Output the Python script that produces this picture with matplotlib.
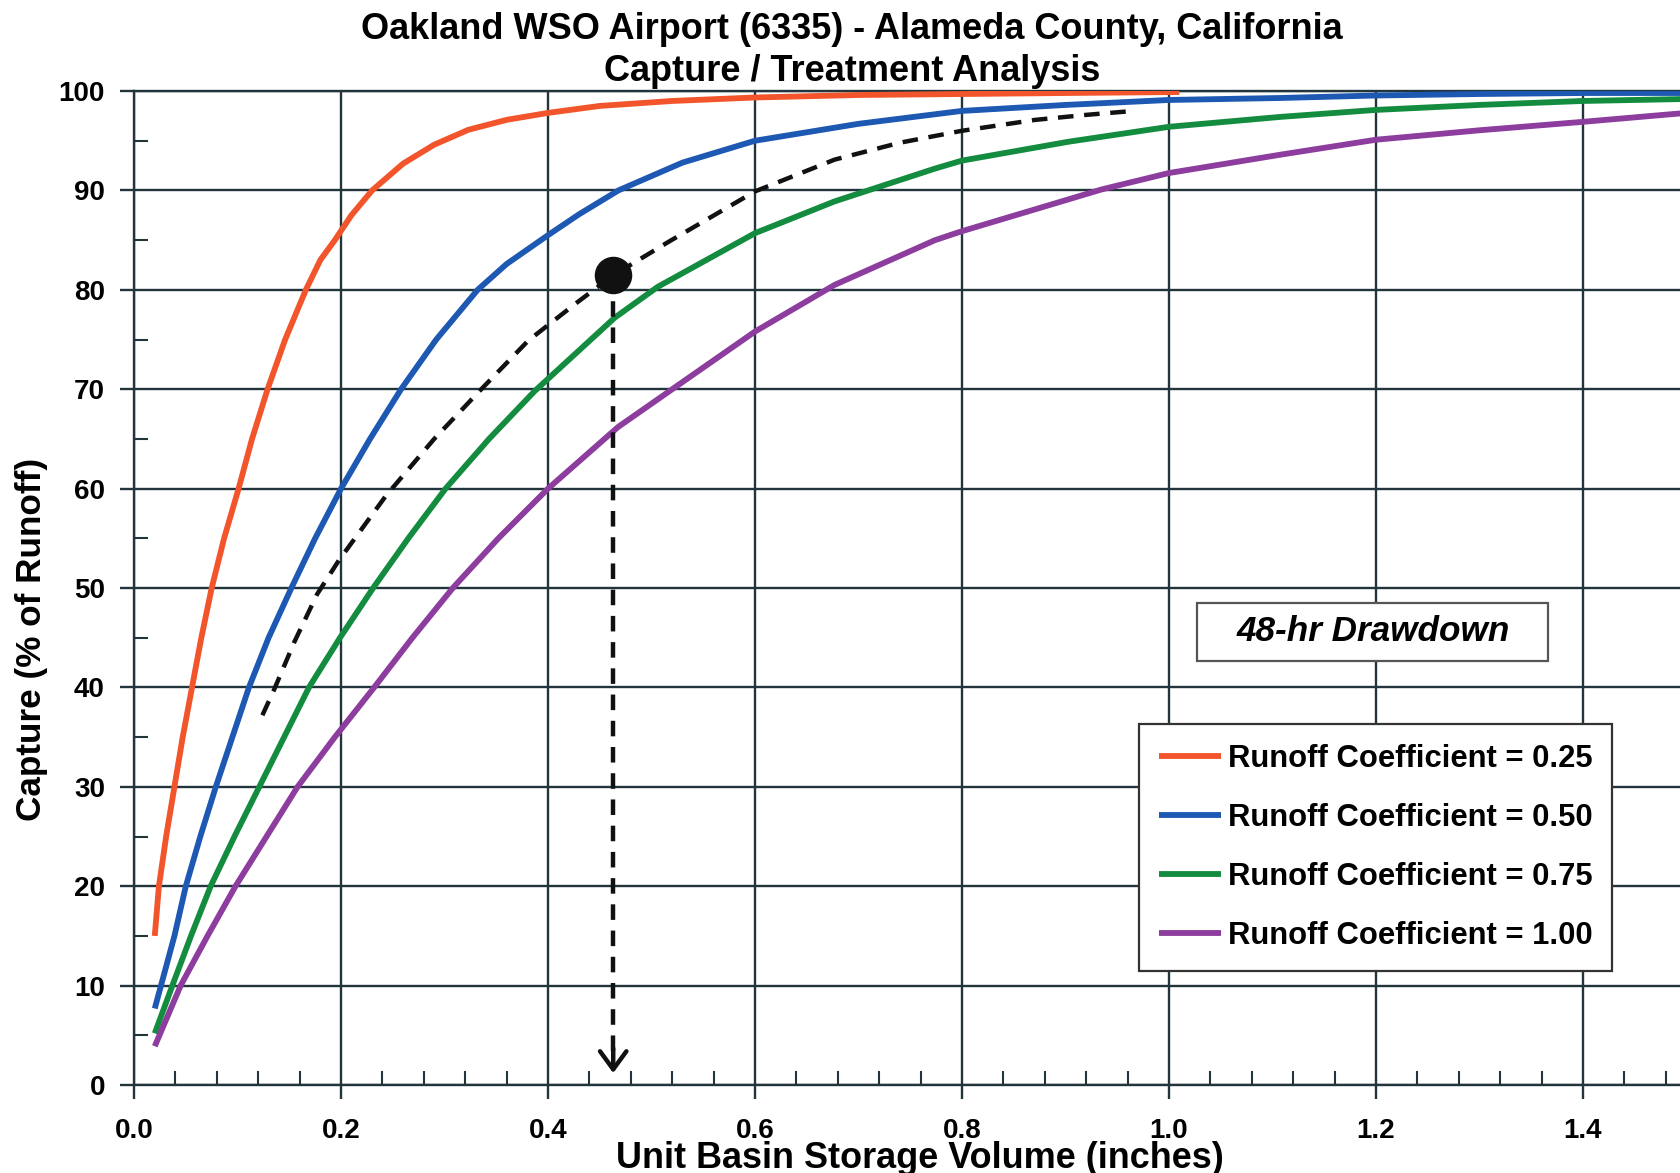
import numpy as np
import matplotlib.pyplot as plt
from matplotlib.ticker import MultipleLocator, FormatStrFormatter
from matplotlib.patches import Rectangle

plt.rcParams['font.family'] = ['Liberation Sans', 'DejaVu Sans']
plt.rcParams['font.weight'] = 'bold'

# capture curves (x = unit basin storage volume, y = % capture)
x_025 = [0.02, 0.024, 0.031, 0.039, 0.047, 0.056, 0.065, 0.075, 0.087, 0.101, 0.114, 0.129,
         0.146, 0.166, 0.18, 0.194, 0.21, 0.23, 0.26, 0.29, 0.323, 0.36, 0.4, 0.45, 0.52,
         0.6, 0.7, 0.8, 0.9, 1.01]
y_025 = [15, 20, 25, 30, 35, 40, 45, 50, 55, 60, 65, 70,
         75, 80, 83, 85, 87.5, 90, 92.7, 94.6, 96.1, 97.1, 97.8, 98.5, 99.0,
         99.35, 99.6, 99.7, 99.8, 99.9]

x_050 = [0.02, 0.026, 0.039, 0.05, 0.064, 0.079, 0.095, 0.111, 0.13, 0.152, 0.175, 0.2,
         0.228, 0.258, 0.292, 0.332, 0.36, 0.4, 0.43, 0.468, 0.53, 0.6, 0.7, 0.8, 0.9, 1.0,
         1.108, 1.2, 1.3, 1.4, 1.5]
y_050 = [7.7, 10, 15, 20, 25, 30, 35, 40, 45, 50, 55, 60,
         65, 70, 75, 80, 82.6, 85.5, 87.6, 90, 92.8, 95.0, 96.7, 98.0, 98.6, 99.1,
         99.3, 99.55, 99.7, 99.8, 99.8]

x_075 = [0.02, 0.037, 0.055, 0.074, 0.097, 0.121, 0.145, 0.169, 0.199, 0.231, 0.265, 0.301,
         0.343, 0.387, 0.4645, 0.506, 0.6, 0.677, 0.774, 0.8, 0.903, 1.0, 1.108, 1.2,
         1.3, 1.4, 1.5]
y_075 = [5.2, 10, 15, 20, 25, 30, 35, 40, 45, 50, 55, 60,
         65, 69.8, 77.2, 80.3, 85.7, 88.9, 92.2, 93.0, 94.9, 96.4, 97.4, 98.1,
         98.6, 99.0, 99.2]

x_100 = [0.02, 0.045, 0.071, 0.098, 0.128, 0.158, 0.194, 0.232, 0.269, 0.308, 0.352, 0.4,
         0.4677, 0.52, 0.6, 0.677, 0.774, 0.8, 0.935, 1.0, 1.108, 1.2, 1.3, 1.4, 1.5]
y_100 = [3.9, 10, 15, 20, 25, 30, 35, 40, 45, 50, 55, 60,
         66.2, 70, 75.8, 80.5, 85.0, 85.9, 90.1, 91.75, 93.6, 95.1, 96.05, 96.9, 97.8]

# dashed design curve and the selected point
x_design = [0.124, 0.135, 0.155, 0.177, 0.198, 0.2435, 0.29, 0.3355, 0.381, 0.429, 0.4629,
            0.516, 0.6, 0.677, 0.74, 0.8, 0.871, 0.92, 0.966]
y_design = [37.2, 39.7, 44.6, 49.4, 52.8, 59.3, 65.0, 70, 74.9, 78.8, 81.45,
            84.8, 89.9, 93.1, 94.8, 96.0, 97.1, 97.6, 98.0]
point_x = 0.463
point_y = 81.45
arrow_end_y = 1.2

labels = ["Runoff Coefficient = 0.25", "Runoff Coefficient = 0.50",
          "Runoff Coefficient = 0.75", "Runoff Coefficient = 1.00"]
colors = ['#F2552B', '#1D58B3', '#148C3F', '#8C3D9E']

grid_c = '#22343c'

fig = plt.figure(figsize=(16.8, 11.73), dpi=100)
ax = fig.add_axes([0.0798, 0.075, 0.924, 0.8474])

series = [(x_025, y_025), (x_050, y_050), (x_075, y_075), (x_100, y_100)]
for (xs, ys), lab, c in zip(series, labels, colors):
    ax.plot(xs, ys, color=c, lw=4.2, label=lab, solid_capstyle='butt',
            solid_joinstyle='round', zorder=3)

ax.plot(x_design, y_design, color='#111111', lw=3.2, dashes=(3.5, 2.4), zorder=4)
ax.plot([point_x, point_x], [point_y, arrow_end_y + 1.5], color='#111111', lw=3.2,
        dashes=(3.5, 2.4), zorder=4)
ax.annotate('', xy=(point_x, arrow_end_y), xytext=(point_x, arrow_end_y + 2.5),
            arrowprops=dict(arrowstyle='->,head_length=1.3,head_width=0.95',
                            color='#111111', lw=3.2, shrinkA=0, shrinkB=0),
            zorder=5)
ax.plot([point_x], [point_y], 'o', color='#111111', ms=26, zorder=6)

ax.set_xlim(0, 1.5)
ax.set_ylim(0, 100)
ax.xaxis.set_major_locator(MultipleLocator(0.2))
ax.xaxis.set_minor_locator(MultipleLocator(0.04))
ax.yaxis.set_major_locator(MultipleLocator(10))
ax.yaxis.set_minor_locator(MultipleLocator(5))
ax.xaxis.set_major_formatter(FormatStrFormatter('%.1f'))
ax.grid(True, which='major', color=grid_c, lw=1.7, zorder=1)
ax.set_axisbelow(True)

ax.tick_params(which='major', direction='out', length=10, width=1.7, color=grid_c,
               labelsize=20)
ax.tick_params(which='minor', direction='in', length=10, width=1.5, color=grid_c)
ax.tick_params(axis='x', which='major', pad=14)
ax.tick_params(axis='y', which='major', pad=11)
for lab in ax.get_xticklabels() + ax.get_yticklabels():
    lab.set_fontweight('bold')
for s in ax.spines.values():
    s.set_color(grid_c)
    s.set_linewidth(1.7)

fig.text(0.507, 0.9568, "Oakland WSO Airport (6335) - Alameda County, California\n"
         "Capture / Treatment Analysis", ha='center', va='center', fontsize=26,
         fontweight='bold', linespacing=1.24)
fig.text(0.5476, 0.0125, "Unit Basin Storage Volume (inches)", ha='center', va='center',
         fontsize=25.9, fontweight='bold')
fig.text(0.019, 0.4552, "Capture (% of Runoff)", ha='center', va='center', rotation=90,
         fontsize=25.3, fontweight='bold')

# "48-hr Drawdown" box
ax.add_patch(Rectangle((0.685, 0.4266), 0.226, 0.0584, transform=ax.transAxes,
                       facecolor='white', edgecolor='#555555', lw=1.6, zorder=7))
ax.text(0.798, 0.4558, "48-hr Drawdown", transform=ax.transAxes, ha='center', va='center',
        fontsize=25.3, fontweight='bold', fontstyle='italic', zorder=8)

leg = ax.legend(loc='upper left', bbox_to_anchor=(0.6476, 0.363), borderaxespad=0,
                fontsize=22.3, handlelength=2.0, handletextpad=0.2, labelspacing=0.93,
                borderpad=0.65, fancybox=False, framealpha=1, edgecolor='#333333')
leg.get_frame().set_linewidth(1.6)
leg.set_zorder(9)
for t in leg.get_texts():
    t.set_fontweight('bold')

fig.savefig('out.png', dpi=100)
